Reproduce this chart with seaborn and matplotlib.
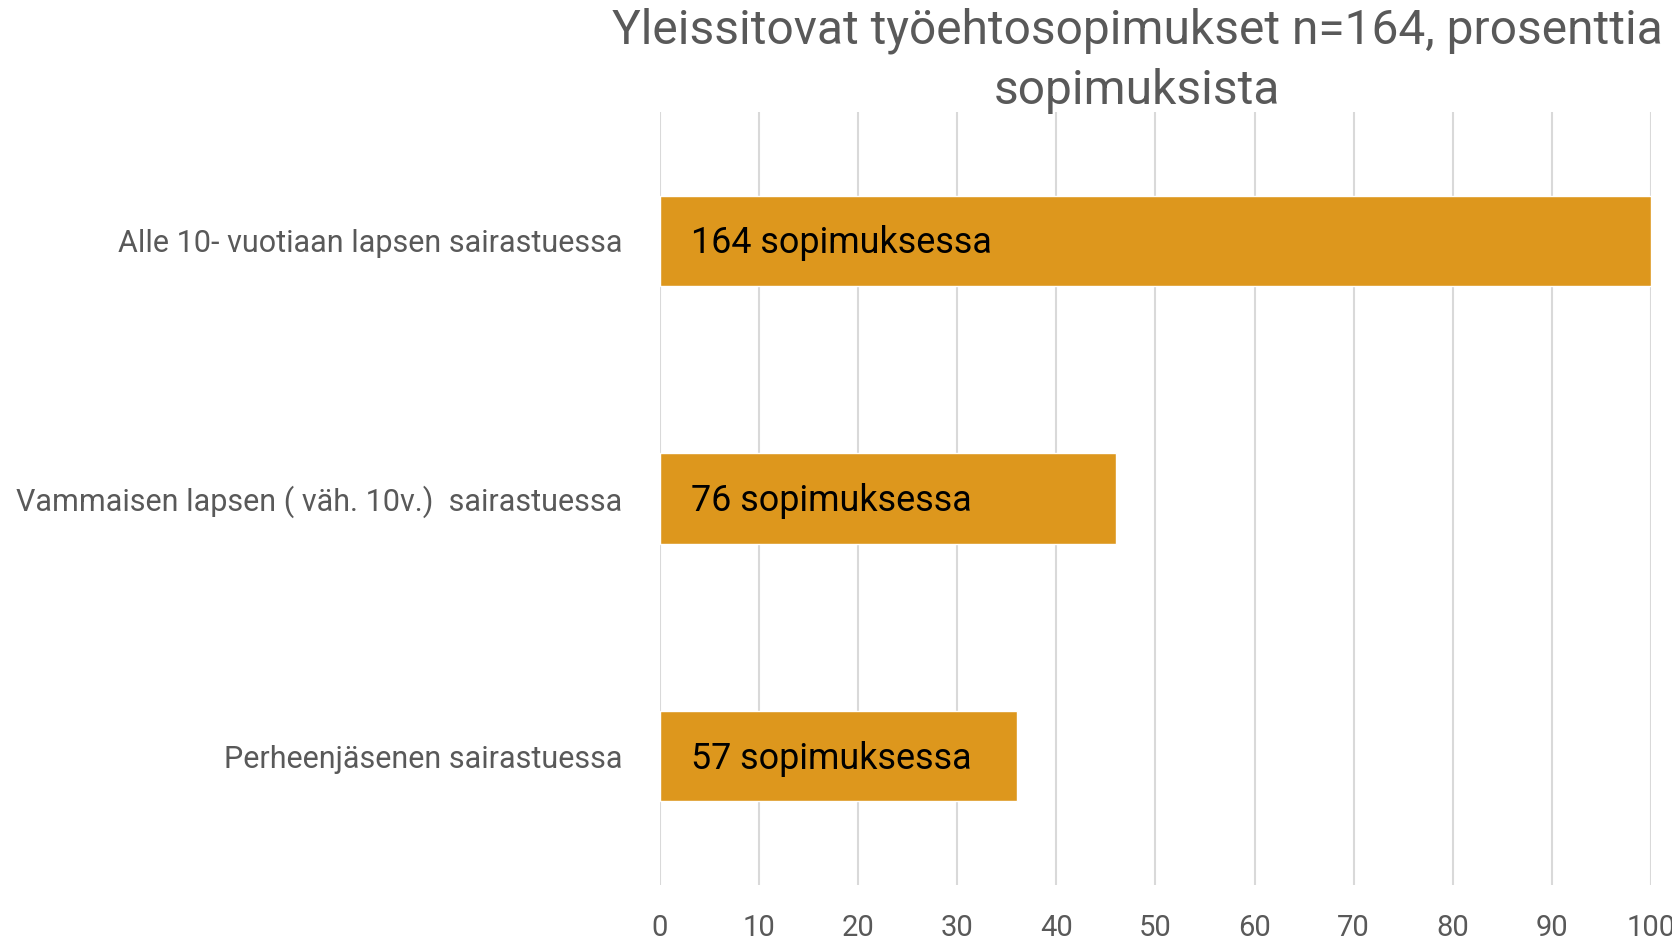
import numpy as np
import pandas as pd
import matplotlib
matplotlib.use("Agg")
import matplotlib.pyplot as plt
import seaborn as sns

TITLE = "Yleissitovat työehtosopimukset n=164, prosenttia\nsopimuksista"
categories = [
    "Alle 10- vuotiaan lapsen sairastuessa",
    "Vammaisen lapsen ( väh. 10v.)  sairastuessa",
    "Perheenjäsenen sairastuessa",
]
percent = [100, 46, 36]
bar_labels = ["164 sopimuksessa", "76 sopimuksessa", "57 sopimuksessa"]
x_ticks = list(range(0, 101, 10))

BAR_COLOR = "#DD971D"
GRID_COLOR = "#D9D9D9"
TEXT_COLOR = "#595959"

sns.set_theme(style="whitegrid")
plt.rcParams["font.family"] = ["Roboto", "DejaVu Sans"]

df = pd.DataFrame({"category": categories, "percent": percent})

fig = plt.figure(figsize=(16.72, 9.4), dpi=100)
ax = fig.add_axes([0.3947, 0.0585, 0.5927, 0.8225])

sns.barplot(data=df, x="percent", y="category", color=BAR_COLOR,
            saturation=1, width=0.35, orient="h", ax=ax)

for i, (val, lab) in enumerate(zip(percent, bar_labels)):
    ax.text(3.1, i + 0.01, lab, ha="left", va="center",
            fontsize=25.8, color="black")

ax.set_xlim(0, 100)
ax.set_ylim(2.5, -0.5)
ax.set_xticks(x_ticks)
ax.xaxis.grid(True, color=GRID_COLOR, linewidth=1.5)
ax.yaxis.grid(False)
for s in ax.spines.values():
    s.set_visible(False)
ax.set_xlabel("")
ax.set_ylabel("")
ax.tick_params(axis="x", length=0, pad=21, labelsize=21, labelcolor=TEXT_COLOR)
ax.tick_params(axis="y", length=0, pad=27, labelsize=22, labelcolor=TEXT_COLOR)

fig.text(0.68, 0.992, TITLE, ha="center", va="top", fontsize=34.5,
         color=TEXT_COLOR, linespacing=1.38)

fig.savefig("out.png", dpi=100, facecolor="white")
